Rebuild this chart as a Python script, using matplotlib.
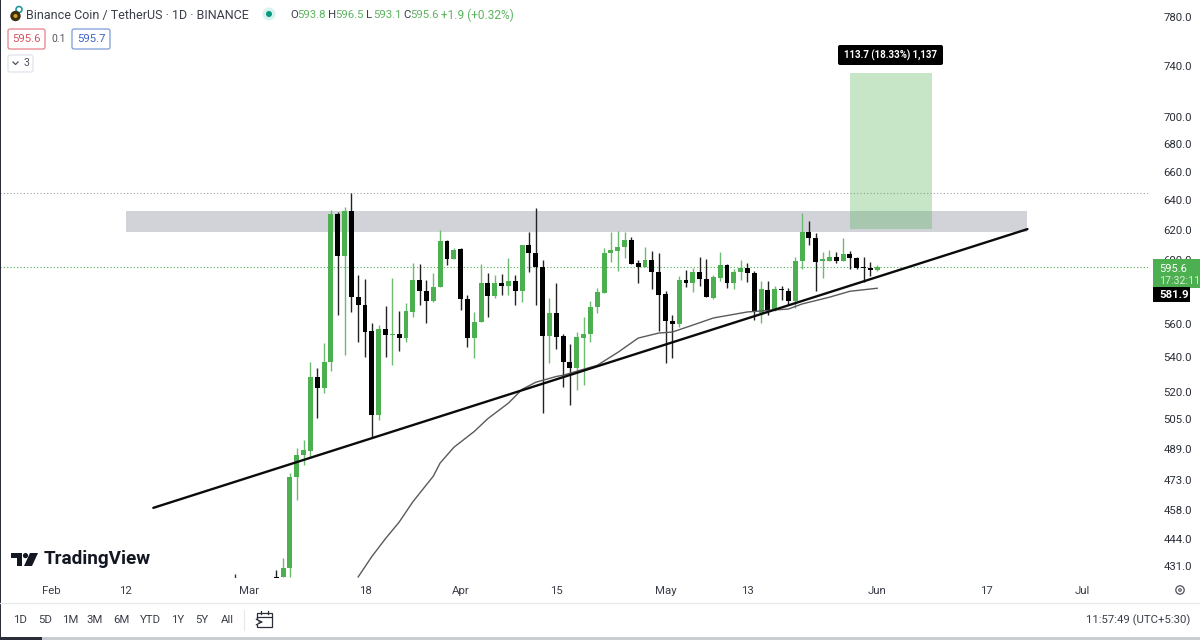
import matplotlib
matplotlib.use("Agg")
import matplotlib.pyplot as plt
import matplotlib.dates as mdates
from matplotlib.patches import Rectangle, FancyBboxPatch, Circle, Polygon
from matplotlib.ticker import FixedLocator, FixedFormatter, NullLocator
import pandas as pd

plt.rcParams['font.family'] = ['Roboto', 'DejaVu Sans']

start_date = "2024-03-05"
opens = [426,426,430,474.5,485.9,488,528.6,522.3,537.1,630.5,602.7,632.5,576.3,571.5,555.6,507.2,556.8,553.2,553.8,551.4,567.2,587.1,580,573.9,582.6,612.4,600.7,607.2,575.1,551.4,561.1,585.2,577,585.2,583.2,586.5,580,609.8,604.6,595.5,552.6,566.6,552.6,537.1,533.7,551.4,553.8,570.2,578.8,604.6,605.9,608.5,613,598,595.5,600,592.3,578.2,561.7,559.8,587.1,585.2,592.3,587.7,575.7,588.4,596.8,585.2,592.3,594.8,591.6,566.6,580.6,569,581.3,580,573.9,599.4,618.3,614.4,599.4,599.4,602,599.4,604,601.3,595.5,594.8,593.8]
closes = [425,430,474.5,485.9,488.5,528.6,522.3,537.1,630.5,602.7,632.5,576.3,571.5,555,507.2,556.8,553.2,553.8,551.4,567.8,587.1,580,573.9,582.6,612.4,600.7,606.6,575.1,551.4,561.1,585.2,577,585.2,583.2,586.5,580,609.8,604.6,595.5,552.6,566.6,552,537.1,533.7,552,553.8,570.2,579.4,604.6,606.6,608.5,613,597.4,595.5,600,592.3,577.6,561.7,559.8,587.1,585.2,592.3,587.7,576.3,589,596.8,585.2,592.3,594.8,591.6,567.2,581.3,568.4,581.3,580.6,573.9,599.4,618.3,614.4,598.7,600,602,599.4,604,601.3,594.8,594.8,593.6,595.6]
highs = [429,435,476.6,489.5,493.8,537.1,533.7,548.4,633,632,635,644.8,590.3,587.7,560.5,559.2,570.9,588.4,567.8,572.7,598,597.4,587.1,591.6,619.6,613,607.9,607.9,577.6,567.2,597.4,591.6,590.3,591,601.3,590.3,609.8,618.3,634.5,600,575.7,585.2,553.8,547.8,555,564.1,573.9,581.9,607.9,618.3,619,618.3,615,600,608.5,605.9,604.6,580,565.4,589.7,593.6,594.8,602,600.7,590.3,605.3,597.4,594.2,600,598,592.9,586.5,586.5,583.2,583.2,581.9,602,631,625.7,617.7,605.3,606.6,605.3,614.4,605.9,602,602,598.7,596.5]
lows = [420,426,426,463,480.7,484.9,505.6,519.4,532,565.4,541.2,567.2,549,540,495.4,504.5,540,535.4,543.6,549,564.1,571.5,560.5,573.3,582.6,596.8,600.7,568.4,546,539.4,561.1,564.1,575.7,577.6,577.6,571.5,573.3,592.3,571.5,508.3,536.6,544.8,522.9,512.8,521.1,524,549,566.6,578.8,598.7,592.9,601.3,597.4,585.2,595.5,581.3,555.6,536.6,539.4,558,582.6,579.4,583.2,576.3,575.1,586.5,581.9,581.3,587.1,585.8,562.3,560.5,565.4,567.8,574.5,571.5,569.6,594.2,609.8,580,588.4,599.4,598,599.4,594.2,594.2,585.8,589.7,593.1]

ma_dates = ["2024-03-17","2024-03-19","2024-03-21","2024-03-23","2024-03-25","2024-03-28","2024-03-29","2024-03-31","2024-04-03","2024-04-05","2024-04-08","2024-04-10","2024-04-12","2024-04-15","2024-04-16","2024-04-18","2024-04-21","2024-04-24","2024-04-27","2024-04-30","2024-05-02","2024-05-05","2024-05-08","2024-05-13","2024-05-17","2024-05-19","2024-05-21","2024-05-25","2024-05-28","2024-06-01"]
ma_values = [426,435.5,444,452,462,475,481.8,490,498.5,505.5,514,521.7,525.7,529,529.7,532,535.4,542.9,551.4,554.4,555,559.2,563.5,567.2,568.4,569,572.1,576.3,580,581.9]

stub_dates = ["2024-02-28"]
stub_highs = [427.5]
stub_lows = [420]

trend_dates = ["2024-02-16", "2024-06-23"]
trend_values = [459, 620.3]
zone_dates = ["2024-02-12", "2024-06-23"]
zone_prices = [618.3, 632.5]
target_dates = ["2024-05-28", "2024-06-09"]
target_prices = [620.3, 734.2]
high_level = 644.8
last_price = 595.6

y_ticks = [780, 740, 700, 680, 660, 640, 620, 600, 560, 540, 520, 505, 489, 473, 458, 444, 431]
y_labels = [f"{v:.1f}" for v in y_ticks]
x_tick_dates = ["2024-02-01","2024-02-12","2024-03-01","2024-03-18","2024-04-01","2024-04-15","2024-05-01","2024-05-13","2024-06-01","2024-06-17","2024-07-01"]
x_tick_labels = ["Feb","12","Mar","18","Apr","15","May","13","Jun","17","Jul"]
ranges = ["1D","5D","1M","3M","6M","YTD","1Y","5Y","All"]
range_x = [20,45,70,95,121,150,178,202,227]

GREEN = "#4caf50"
BLACK = "#000000"
TEXT = "#2a2e39"

fig = plt.figure(figsize=(12, 6.4), dpi=100, facecolor="white")
W, H = 1200, 640
ax = fig.add_axes([0, 1 - 578 / H, 1148 / W, 578 / H])
ax.set_facecolor("white")
ax.set_yscale("log")
ax.set_ylim(425.5, 794.5)
ref = mdates.date2num(pd.Timestamp("2024-03-18"))
ax.set_xlim(ref - 53.45, ref + 114.65)

dates = pd.date_range(start_date, periods=len(opens))
x = mdates.date2num(dates)

zx = mdates.date2num(pd.to_datetime(zone_dates))
ax.add_patch(Rectangle((zx[0], zone_prices[0]), zx[1] - zx[0], zone_prices[1] - zone_prices[0],
                       facecolor="#d1d3d9", edgecolor="none", zorder=1))
tx = mdates.date2num(pd.to_datetime(target_dates))

ax.axhline(high_level, color="#9aa0a6", lw=0.8, ls=(0, (1, 2)), zorder=1.5)
ax.axhline(last_price, color=GREEN, lw=0.8, ls=(0, (1, 2)), zorder=1.5)

wick_green = "#6dbb70"
for xi, o, h, l, c in zip(x, opens, highs, lows, closes):
    up = c >= o
    ax.vlines(xi, l, h, color=wick_green if up else "#222222", lw=1.0, zorder=2)
    lo, hi = min(o, c), max(o, c)
    ax.add_patch(Rectangle((xi - 0.36, lo), 0.72, max(hi - lo, 0.9),
                           facecolor=GREEN if up else BLACK, edgecolor="none", zorder=3))
sx = mdates.date2num(pd.to_datetime(stub_dates))
ax.vlines(sx, stub_lows, stub_highs, color="#333333", lw=1.0, zorder=2)

ax.add_patch(Rectangle((tx[0], target_prices[0]), tx[1] - tx[0], target_prices[1] - target_prices[0],
                       facecolor=GREEN, alpha=0.31, edgecolor="none", zorder=4))

ax.plot(mdates.date2num(pd.to_datetime(ma_dates)), ma_values, color="#5a5a5a", lw=1.0, zorder=4)
ax.plot(mdates.date2num(pd.to_datetime(trend_dates)), trend_values, color="#0b0b0b", lw=1.7, zorder=5,
        solid_capstyle="round")

for s in ax.spines.values():
    s.set_visible(False)
ax.yaxis.tick_right()
ax.yaxis.set_major_locator(FixedLocator(y_ticks))
ax.yaxis.set_major_formatter(FixedFormatter(y_labels))
ax.yaxis.set_minor_locator(NullLocator())
ax.tick_params(axis="y", which="both", length=0, pad=11, labelsize=8.2, labelcolor=TEXT)
ax.set_xticks(mdates.date2num(pd.to_datetime(x_tick_dates)))
ax.set_xticklabels(x_tick_labels)
ax.tick_params(axis="x", length=0, pad=6, labelsize=8.2, labelcolor="#3a3e49")

ui = fig.add_axes([0, 0, 1, 1], zorder=10)
ui.set_xlim(0, W)
ui.set_ylim(H, 0)
ui.axis("off")
ui.patch.set_alpha(0)

def T(px, py, s, size=8.2, color=TEXT, ha="left", weight="normal"):
    ui.text(px, py, s, fontsize=size, color=color, ha=ha, va="center", fontweight=weight)

def box(px, py, w, h, ec, fc="white", lw=0.9, r=2):
    ui.add_patch(FancyBboxPatch((px + r, py + r), w - 2 * r, h - 2 * r,
                                boxstyle=f"round,pad={r},rounding_size={r}",
                                ec=ec, fc=fc, lw=lw))

ui.add_patch(Circle((19, 9.5), 3, fc="none", ec="#1f9a9a", lw=1.2))
ui.add_patch(Circle((15.5, 16), 5.2, fc="#3a2f12", ec="none"))
ui.add_patch(Circle((15.5, 16), 2, fc="#d8a11c", ec="none"))
T(26, 15, "Binance Coin / TetherUS · 1D · BINANCE", size=9.0, color="#3a3e49")
ui.add_patch(Circle((269, 14), 6.5, fc="#d8f3ef", ec="none"))
ui.add_patch(Circle((269, 14), 3, fc="#089981", ec="none"))
hx = [290, 328, 366, 403]
hl = ["O", "H", "L", "C"]
hv = ["593.8", "596.5", "593.1", "595.6"]
for px, a, b in zip(hx, hl, hv):
    T(px, 15, a, size=8.2, color="#3a3e49")
    T(px + 7, 15, b, size=8.2, color="#5cb360")
T(441, 15, "+1.9 (+0.32%)", size=8.6, color="#5cb360")

box(8, 29, 37, 20, "#e8808a")
T(26.5, 39, "595.6", size=8.2, color="#d9505f", ha="center")
T(58.5, 39, "0.1", size=7.4, color="#50535e", ha="center")
box(72, 29, 38, 20, "#7d9bd8")
T(91, 39, "595.7", size=8.2, color="#3d64c8", ha="center")
box(8, 55, 25, 17, "#e0e3eb")
ui.plot([13, 15.5, 18], [62, 64.5, 62], color="#50535e", lw=0.9)
T(26.5, 63.5, "3", size=7.6, color="#50535e", ha="center")

box(838, 45, 105, 20, "black", fc="black", lw=0, r=2)
T(890, 55, "113.7 (18.33%) 1,137", size=6.9, color="white", ha="center", weight="bold")

ui.add_patch(Rectangle((1153, 259), 47, 29, fc=GREEN, ec="none"))
T(1159, 269, "595.6", size=8.0, color="white")
T(1159, 281, "17:32:11", size=7.7, color="#d5efd6")
ui.add_patch(Rectangle((1153, 287), 37, 15, fc="black", ec="none"))
T(1159, 295, "581.9", size=8.2, color="white", weight="bold")

ui.add_patch(Polygon([(11, 553), (22, 553), (22, 566), (17, 566), (17, 558), (11, 558)], fc="#131722", ec="none"))
ui.add_patch(Circle((25.5, 555.6), 2.6, fc="#131722", ec="none"))
ui.add_patch(Polygon([(30, 553), (38, 553), (32, 566), (24, 566)], fc="#131722", ec="none"))
T(44, 559.5, "TradingView", size=13.6, color="#131722", weight="bold")

ui.plot([0, W], [603, 603], color="#e6e8ee", lw=0.9)
for px, s in zip(range_x, ranges):
    T(px, 620, s, size=8.2, color="#3a3e49", ha="center")
ui.plot([244, 244], [610, 630], color="#e6e8ee", lw=0.9)
ui.add_patch(Rectangle((257, 613), 15, 14, fc="white", ec="#2a2e39", lw=0.9))
ui.plot([257, 272], [617, 617], color="#2a2e39", lw=0.9)
ui.plot([261, 261], [611, 614], color="#2a2e39", lw=0.9)
ui.plot([268, 268], [611, 614], color="#2a2e39", lw=0.9)
ui.add_patch(Rectangle((254, 620), 8, 5, fc="white", ec="none"))
ui.annotate("", xy=(266, 622), xytext=(256, 622), arrowprops=dict(arrowstyle="->", lw=0.9, color="#2a2e39"))
T(1190, 620, "11:57:49 (UTC+5:30)", size=8.2, color="#3a3e49", ha="right")
ui.add_patch(Circle((1180, 590), 4.2, fc="white", ec="#50535e", lw=0.9))
ui.add_patch(Circle((1180, 590), 1.3, fc="white", ec="#50535e", lw=0.8))

ui.add_patch(Rectangle((0, 0), 1.2, H, fc="#2a2e39", ec="none"))
ui.add_patch(Rectangle((0, 637), W, 3, fc="#c9ccd1", ec="none"))
ui.add_patch(Rectangle((0, 637), 42, 3, fc="#2a2e39", ec="none"))

fig.savefig("out.png", dpi=100)
